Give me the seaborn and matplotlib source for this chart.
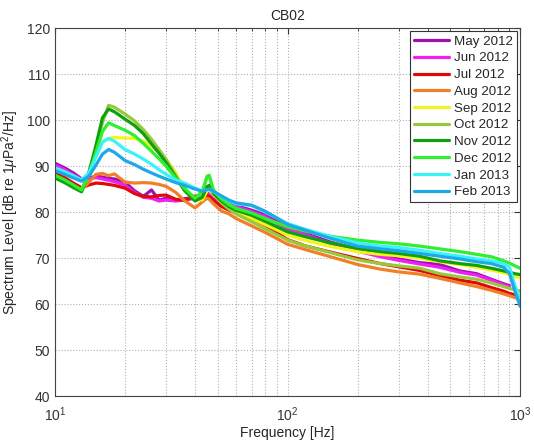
import numpy as np
import pandas as pd
import matplotlib
matplotlib.use('Agg')
import matplotlib.pyplot as plt
import seaborn as sns

freqs = [10, 11, 12, 13, 14, 15, 16, 17, 18, 20, 22, 24, 26, 28, 30, 33, 36, 40, 43, 45, 46, 48,
         52, 56, 60, 70, 80, 100, 120, 150, 200, 250, 300, 370, 450, 550, 650, 750, 850, 900, 950, 1000]

may_2012 = [90.6, 89.6, 88.5, 87.2, 87.4, 87.8, 87.6, 87.3, 87.2, 86.5, 84.6, 83.4, 84.8, 82.6, 83.0, 82.6, 82.9, 83.2, 83.5, 84.0, 84.2, 83.6,
            82.6, 82.0, 81.4, 80.4, 79.4, 76.6, 75.3, 73.6, 71.8, 70.6, 69.8, 69.0, 68.6, 67.2, 66.6, 65.4, 64.4, 64.0, np.nan, np.nan]
jun_2012 = [90.2, 89.2, 88.1, 87.0, 87.2, 87.5, 87.2, 86.9, 86.6, 85.8, 84.2, 83.2, 83.0, 82.4, 82.6, 82.4, 82.6, 83.0, 83.2, 83.6, 83.8, 83.2,
            82.3, 81.7, 81.2, 80.1, 79.0, 76.3, 75.0, 73.3, 71.5, 70.3, 69.5, 68.7, 68.0, 66.9, 66.3, 65.2, 64.2, 63.8, np.nan, np.nan]
jul_2012 = [88.4, 87.5, 86.3, 85.3, 85.9, 86.3, 86.2, 86.0, 85.8, 85.2, 84.0, 83.4, 83.3, 83.6, 83.7, 82.8, 82.5, 83.5, 83.2, 83.6, 83.4, 82.6,
            81.2, 80.4, 79.8, 78.6, 77.2, 74.0, 72.6, 71.4, 69.9, 68.8, 68.1, 67.3, 66.2, 65.2, 64.6, 63.6, 62.8, 62.3, 62.0, 61.6]
aug_2012 = [87.8, 86.7, 85.6, 84.8, 86.5, 88.2, 88.4, 87.9, 88.3, 86.5, 86.3, 86.4, 86.3, 86.0, 85.6, 84.3, 82.5, 80.9, 82.2, 83.0, 82.8, 81.8,
            80.2, 79.6, 78.6, 77.0, 75.6, 73.0, 71.8, 70.4, 68.6, 67.6, 67.0, 66.5, 65.6, 64.6, 63.8, 63.0, 62.2, 61.8, 61.4, 61.0]
sep_2012 = [87.8, 86.8, 85.7, 84.8, 88.5, 92.0, 95.3, 96.0, 96.2, 96.1, 96.0, 95.4, 94.3, 93.0, 91.5, 88.6, 85.0, 83.0, 82.6, 84.5, 84.8, 83.8,
            82.2, 81.0, 80.2, 78.6, 77.3, 75.0, 73.8, 72.6, 71.4, 70.8, 70.5, 70.0, 69.2, 68.6, 68.0, 67.4, 66.8, 66.4, 66.0, 65.7]
oct_2012 = [87.6, 86.6, 85.5, 84.5, 88.8, 94.0, 99.5, 103.2, 102.8, 101.3, 99.8, 97.9, 95.8, 93.6, 91.5, 88.0, 84.6, 82.6, 84.0, 87.8, 87.9, 84.5,
            82.0, 80.6, 79.6, 77.9, 76.4, 73.9, 72.6, 71.3, 69.6, 68.8, 68.3, 67.8, 66.6, 65.9, 65.4, 64.6, 63.8, 63.4, 63.1, 62.8]
nov_2012 = [87.4, 86.4, 85.3, 84.4, 88.5, 94.5, 100.5, 102.4, 101.8, 100.2, 98.8, 97.0, 94.8, 92.8, 90.8, 87.6, 84.8, 82.4, 83.2, 85.5, 85.8, 84.0,
            82.4, 81.2, 80.4, 79.3, 78.0, 75.7, 74.6, 73.4, 72.1, 71.4, 71.0, 70.4, 69.4, 68.8, 68.4, 67.8, 67.2, 66.9, 66.6, 66.4]
dec_2012 = [88.0, 87.0, 85.9, 84.8, 88.2, 93.0, 97.5, 99.4, 98.8, 97.8, 96.6, 94.9, 93.2, 91.6, 90.0, 87.4, 85.2, 83.0, 84.6, 87.5, 88.0, 84.8,
            82.8, 81.6, 80.8, 79.8, 78.6, 76.8, 75.8, 74.8, 73.9, 73.4, 73.1, 72.6, 72.0, 71.4, 70.8, 70.3, 69.4, 68.9, 68.3, 67.8]
jan_2013 = [89.6, 88.8, 87.9, 87.0, 88.5, 92.0, 95.2, 96.0, 95.4, 93.6, 92.6, 91.5, 90.4, 89.2, 88.2, 87.0, 86.3, 85.2, 84.6, 84.8, 84.9, 84.4,
            83.4, 82.4, 81.8, 81.4, 80.0, 77.5, 76.2, 74.8, 73.3, 72.6, 72.3, 71.7, 71.0, 70.4, 69.8, 69.4, 68.8, 68.0, 64.0, 61.0]
feb_2013 = [89.0, 88.2, 87.4, 86.7, 87.8, 90.2, 92.6, 93.6, 93.0, 91.2, 90.3, 89.3, 88.5, 87.8, 87.2, 86.4, 85.8, 85.0, 84.5, 84.9, 85.0, 84.5,
            83.5, 82.6, 82.0, 81.5, 80.2, 77.3, 76.0, 74.4, 72.6, 72.0, 71.6, 71.0, 70.4, 69.8, 69.2, 68.8, 68.0, 66.6, 62.8, 59.5]

months = ['May 2012', 'Jun 2012', 'Jul 2012', 'Aug 2012', 'Sep 2012',
          'Oct 2012', 'Nov 2012', 'Dec 2012', 'Jan 2013', 'Feb 2013']
series = [may_2012, jun_2012, jul_2012, aug_2012, sep_2012,
          oct_2012, nov_2012, dec_2012, jan_2013, feb_2013]
colors = ['#a010b0', '#f020f0', '#e00808', '#f08028', '#f4f41c',
          '#98c83c', '#0fa00f', '#30ee30', '#38f4f8', '#1ea8e8']

rows = []
for m, vals in zip(months, series):
    for f, v in zip(freqs, vals):
        rows.append({'freq': f, 'level': v, 'month': m})
df = pd.DataFrame(rows).dropna()

sns.set_style('white')
plt.rcParams['font.family'] = ['Liberation Sans', 'DejaVu Sans']
plt.rcParams['mathtext.fontset'] = 'custom'
plt.rcParams['mathtext.rm'] = 'Liberation Sans'
plt.rcParams['mathtext.it'] = 'Liberation Sans:italic'

fig = plt.figure(figsize=(5.34, 4.45), dpi=100)
ax = fig.add_axes([0.103, 0.110, 0.871, 0.827])

sns.lineplot(data=df, x='freq', y='level', hue='month', hue_order=months,
             palette=dict(zip(months, colors)), linewidth=2.3, ax=ax, legend=False)

ax.set_xscale('log')
ax.set_xlim(10, 1000)
ax.set_ylim(40, 120)
ax.set_yticks(range(40, 121, 10))
ax.grid(True, which='major', color='#b0b0b0', linestyle=':', linewidth=0.8)
ax.grid(True, which='minor', axis='x', color='#b0b0b0', linestyle=':', linewidth=0.8)
ax.tick_params(which='both', direction='in', top=True, right=True, labelsize=10, colors='#333333')
ax.tick_params(which='major', length=4)
ax.tick_params(which='minor', length=2)
ax.tick_params(axis='x', which='major', pad=7)
for s in ax.spines.values():
    s.set_color('#444444')
    s.set_linewidth(0.8)

ax.set_title('CB02', fontsize=10, pad=6)
ax.set_xlabel('Frequency [Hz]', fontsize=10, labelpad=1)
ax.set_ylabel(r'Spectrum Level [dB re 1$\mu$Pa$^2$/Hz]', fontsize=10, labelpad=4)

handles = [plt.Line2D([], [], color=c, linewidth=2.3) for c in colors]
leg = ax.legend(handles, months, loc='upper right', fontsize=9.6, frameon=True,
                fancybox=False, edgecolor='#333333', framealpha=1,
                handlelength=2.6, labelspacing=0.33, borderaxespad=0.25,
                handletextpad=0.4, borderpad=0.3)
leg.get_frame().set_linewidth(0.8)

fig.savefig('out.png', dpi=100)
